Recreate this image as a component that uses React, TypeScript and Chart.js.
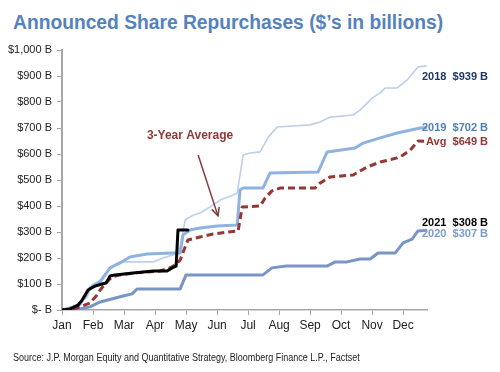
import React, { useEffect, useRef } from "react";
import { Chart, registerables } from "chart.js";

Chart.register(...registerables);

const monthLabels = ["Jan", "Feb", "Mar", "Apr", "May", "Jun", "Jul", "Aug", "Sep", "Oct", "Nov", "Dec"];
const yTickValues = [0, 100, 200, 300, 400, 500, 600, 700, 800, 900, 1000];

// x values are fractional months since Jan 1 (0 = Jan, 1 = Feb, ...)
const x2018 = [0, 0.35, 0.58, 0.81, 0.97, 1.23, 1.55, 1.87, 2.94, 3.26, 3.58, 3.81, 3.97, 4.23, 4.45, 4.77, 5.1, 5.52, 5.65, 5.84, 6.06, 6.39, 6.65, 6.94, 8.0, 8.32, 8.65, 9.39, 9.61, 10.0, 10.26, 10.42, 10.81, 11.13, 11.48, 11.77];
const y2018 = [0, 15, 27, 50, 96, 115, 165, 185, 185, 200, 212, 242, 346, 365, 373, 396, 423, 442, 450, 596, 604, 608, 665, 704, 712, 723, 742, 750, 769, 815, 835, 854, 854, 885, 935, 939];

const x2019 = [0, 0.26, 0.52, 0.74, 0.9, 1.23, 1.55, 1.87, 2.19, 2.74, 3.58, 3.81, 3.9, 4.13, 4.45, 5.0, 5.65, 5.74, 5.84, 6.48, 6.71, 8.26, 8.55, 9.45, 9.71, 10.26, 10.81, 11.55, 11.77];
const y2019 = [0, 8, 12, 50, 85, 108, 162, 181, 204, 215, 219, 219, 288, 308, 315, 323, 327, 462, 469, 469, 527, 531, 608, 623, 642, 662, 681, 700, 702];

const x2020 = [0, 0.42, 0.9, 1.23, 1.97, 2.26, 2.42, 3.81, 4.0, 6.48, 6.77, 7.23, 8.55, 8.81, 9.19, 9.61, 9.94, 10.19, 10.74, 11.0, 11.29, 11.48, 11.77];
const y2020 = [0, 0, 12, 31, 54, 62, 81, 81, 135, 135, 162, 169, 169, 185, 185, 196, 196, 219, 219, 258, 273, 304, 307];

const x2021 = [0, 0.26, 0.52, 0.65, 0.84, 1.06, 1.29, 1.42, 1.55, 1.71, 2.29, 2.94, 3.39, 3.55, 3.68, 3.74, 4.06];
const y2021 = [0, 4, 19, 38, 77, 92, 100, 104, 131, 135, 142, 150, 150, 162, 169, 308, 308];

const xAvg = [0, 0.32, 0.58, 0.9, 1.13, 1.23, 1.45, 1.61, 1.87, 2.29, 2.74, 3.16, 3.48, 3.65, 3.81, 3.97, 4.06, 4.45, 4.87, 5.32, 5.68, 5.81, 6.39, 6.55, 6.77, 7.03, 8.16, 8.32, 8.65, 9.39, 9.55, 9.84, 10.26, 10.81, 11.0, 11.23, 11.48, 11.71];
const yAvg = [0, 0, 12, 27, 58, 77, 108, 127, 135, 142, 146, 150, 162, 173, 192, 242, 269, 281, 292, 300, 304, 396, 400, 431, 458, 469, 469, 488, 512, 519, 531, 550, 569, 585, 596, 615, 650, 649];

const endLabels = ["2018  $939 B", "2019  $702 B", "Avg  $649 B", "2021  $308 B", "2020  $307 B"];
const endLabelValues = [939, 702, 649, 308, 307];

const annotationText = "3-Year Average";
const annotationFrom = [4.39, 596];
const annotationTo = [5.03, 362];
const annotationTextAt = [4.13, 669];

const toPoints = (xs: number[], ys: number[]) => xs.map((x, i) => ({ x, y: ys[i] }));

const FONT = "Arial, 'Liberation Sans', sans-serif";

export default function App() {
  const canvasRef = useRef<HTMLCanvasElement | null>(null);

  useEffect(() => {
    if (!canvasRef.current) return;
    const labelColors = ["#1f3864", "#4f81bd", "#953735", "#000000", "#7a9ccb"];
    const labelDy = [11, 0, 1, -7, 4];

    const overlay = {
      id: "overlay",
      afterDatasetsDraw(chart: any) {
        const { ctx, scales } = chart;
        const xs = scales.x;
        const ys = scales.y;
        ctx.save();
        ctx.font = `bold 11px ${FONT}`;
        ctx.textAlign = "right";
        ctx.textBaseline = "middle";
        endLabels.forEach((t, i) => {
          ctx.fillStyle = labelColors[i];
          ctx.fillText(t, 488, ys.getPixelForValue(endLabelValues[i]) + labelDy[i]);
        });
        ctx.font = `bold 12px ${FONT}`;
        ctx.textAlign = "center";
        ctx.fillStyle = "#953735";
        ctx.fillText(annotationText, xs.getPixelForValue(annotationTextAt[0]), ys.getPixelForValue(annotationTextAt[1]));
        const x1 = xs.getPixelForValue(annotationFrom[0]);
        const y1 = ys.getPixelForValue(annotationFrom[1]);
        const x2 = xs.getPixelForValue(annotationTo[0]);
        const y2 = ys.getPixelForValue(annotationTo[1]);
        ctx.strokeStyle = "#843c3c";
        ctx.lineWidth = 1.5;
        ctx.beginPath();
        ctx.moveTo(x1, y1);
        ctx.lineTo(x2, y2);
        ctx.stroke();
        const ang = Math.atan2(y2 - y1, x2 - x1);
        const hl = 9;
        ctx.beginPath();
        ctx.moveTo(x2 - hl * Math.cos(ang - 0.45), y2 - hl * Math.sin(ang - 0.45));
        ctx.lineTo(x2, y2);
        ctx.lineTo(x2 - hl * Math.cos(ang + 0.45), y2 - hl * Math.sin(ang + 0.45));
        ctx.stroke();
        ctx.restore();
      },
    };

    const common = { pointRadius: 0, tension: 0, fill: false, borderJoinStyle: "round" as const, borderCapStyle: "round" as const };

    const chart = new Chart(canvasRef.current, {
      type: "line",
      data: {
        datasets: [
          { ...common, label: "2021", data: toPoints(x2021, y2021), borderColor: "#000000", borderWidth: 3, order: 0 },
          { ...common, label: "Avg", data: toPoints(xAvg, yAvg), borderColor: "#953735", borderWidth: 3, borderDash: [7, 4], borderCapStyle: "butt", order: 1 },
          { ...common, label: "2020", data: toPoints(x2020, y2020), borderColor: "#7895c6", borderWidth: 3, order: 2 },
          { ...common, label: "2019", data: toPoints(x2019, y2019), borderColor: "#8fb2e0", borderWidth: 3, order: 3 },
          { ...common, label: "2018", data: toPoints(x2018, y2018), borderColor: "#bcd0ea", borderWidth: 1.6, order: 4 },
        ],
      },
      options: {
        animation: false,
        responsive: false,
        events: [],
        layout: { padding: { top: 50, right: 73, left: 0, bottom: 0 } },
        plugins: { legend: { display: false }, tooltip: { enabled: false } },
        scales: {
          x: {
            type: "linear",
            min: 0,
            max: 11.77,
            afterFit: (s: any) => { s.height = 62; },
            afterBuildTicks: (s: any) => { s.ticks = monthLabels.map((_, i) => ({ value: i })); },
            ticks: {
              callback: (v: any) => monthLabels[Math.round(Number(v))] ?? "",
              font: { family: FONT, size: 12 },
              color: "#222",
              padding: 3,
              maxRotation: 0,
              autoSkip: false,
            },
            grid: { drawOnChartArea: false, drawTicks: true, tickLength: 5, color: "#a6a6a6", lineWidth: 1 },
            border: { color: "#a6a6a6", width: 1.5 },
          },
          y: {
            min: 0,
            max: 1000,
            afterFit: (s: any) => { s.width = 62; },
            afterBuildTicks: (s: any) => { s.ticks = yTickValues.map((v) => ({ value: v })); },
            ticks: {
              callback: (v: any) => (Number(v) === 0 ? "$- B" : "$" + Number(v).toLocaleString("en-US") + " B"),
              font: { family: FONT, size: 11 },
              color: "#222",
              padding: 5,
            },
            grid: { drawOnChartArea: false, drawTicks: true, tickLength: 5, color: "#a6a6a6", lineWidth: 1 },
            border: { color: "#a6a6a6", width: 2 },
          },
        },
      },
      plugins: [overlay],
    });
    return () => chart.destroy();
  }, []);

  return (
    <div style={{ position: "fixed", left: 0, top: 0, width: 500, height: 372, background: "#fff", overflow: "hidden" }}>
      <div
        style={{
          position: "absolute",
          left: 13,
          top: 7,
          fontFamily: FONT,
          fontWeight: "bold",
          fontSize: 20,
          color: "#5482bd",
          whiteSpace: "nowrap",
          lineHeight: "30px",
          transform: "scaleX(0.962)",
          transformOrigin: "left center",
        }}
      >
        Announced Share Repurchases ($’s in billions)
      </div>
      <canvas ref={canvasRef} width={500} height={372} style={{ position: "absolute", left: 0, top: 0 }} />
      <div
        style={{
          position: "absolute",
          left: 13,
          top: 351,
          fontFamily: FONT,
          fontSize: 10,
          color: "#222",
          whiteSpace: "nowrap",
          lineHeight: "14px",
          transform: "scaleX(0.9)",
          transformOrigin: "left center",
        }}
      >
        Source: J.P. Morgan Equity and Quantitative  Strategy, Bloomberg Finance L.P., Factset
      </div>
    </div>
  );
}
